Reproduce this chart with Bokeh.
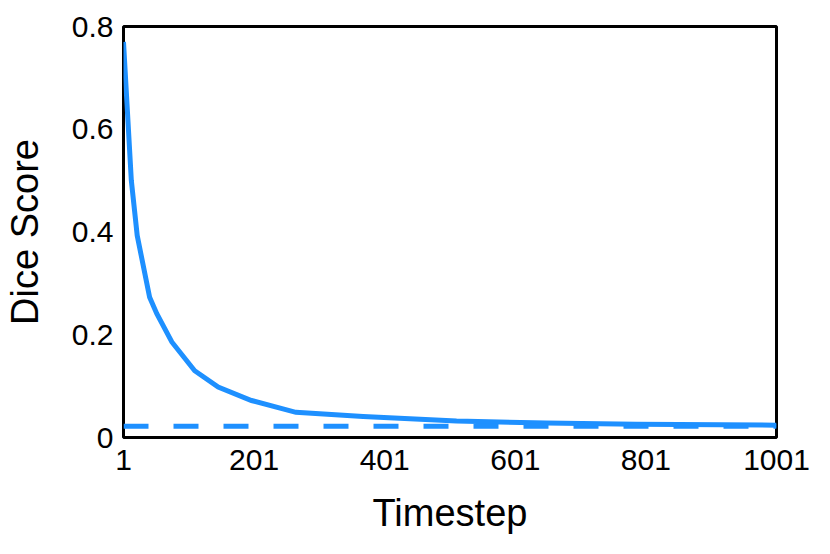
from bokeh.plotting import figure
from bokeh.models import Range1d, FixedTicker
from bokeh.embed import file_html
from bokeh.resources import INLINE

# Data
timesteps = [1, 13, 22, 41, 52, 75, 110, 146, 197, 265, 368, 511, 648, 786, 1001]
dice = [0.770, 0.500, 0.393, 0.273, 0.241, 0.186, 0.130, 0.098, 0.072, 0.049,
        0.041, 0.032, 0.028, 0.026, 0.024]
baseline_x = [1, 1001]
baseline_y = [0.022, 0.022]

x_ticks = [1, 201, 401, 601, 801, 1001]
x_tick_labels = ["1", "201", "401", "601", "801", "1001"]
y_ticks = [0, 0.2, 0.4, 0.6, 0.8]
y_tick_labels = ["0", "0.2", "0.4", "0.6", "0.8"]

BLUE = "#1E90FF"
FONT = "Liberation Sans"

p = figure(width=814, height=538, output_backend="svg", toolbar_location=None,
           x_range=Range1d(1, 1001), y_range=Range1d(0, 0.8),
           min_border_left=123, min_border_right=38, min_border_top=26,
           min_border_bottom=101)

p.line(timesteps, dice, line_color=BLUE, line_width=5, line_join="miter")
p.line(baseline_x, baseline_y, line_color=BLUE, line_width=5, line_dash="25 25")

p.grid.visible = False
p.outline_line_color = "black"
p.outline_line_width = 3
p.outline_line_alpha = 1.0

p.xaxis.ticker = FixedTicker(ticks=x_ticks)
p.xaxis.major_label_overrides = {t: l for t, l in zip(x_ticks, x_tick_labels)}
p.yaxis.ticker = FixedTicker(ticks=y_ticks)
p.yaxis.major_label_overrides = {t: l for t, l in zip(y_ticks, y_tick_labels)}

for ax in (p.xaxis[0], p.yaxis[0]):
    ax.axis_line_color = None
    ax.major_tick_line_color = None
    ax.minor_tick_line_color = None
    ax.major_tick_out = 0
    ax.major_tick_in = 0
    ax.major_label_text_font = FONT
    ax.major_label_text_font_size = "30px"
    ax.major_label_text_color = "black"
    ax.axis_label_text_font = FONT
    ax.axis_label_text_font_size = "38px"
    ax.axis_label_text_font_style = "normal"
    ax.axis_label_text_color = "black"

p.xaxis.axis_label = "Timestep"
p.yaxis.axis_label = "Dice Score"
p.xaxis.major_label_standoff = 12
p.yaxis.major_label_standoff = 10
p.xaxis.axis_label_standoff = 19
p.yaxis.axis_label_standoff = 23

open("out.html", "w").write(file_html(p, INLINE))
